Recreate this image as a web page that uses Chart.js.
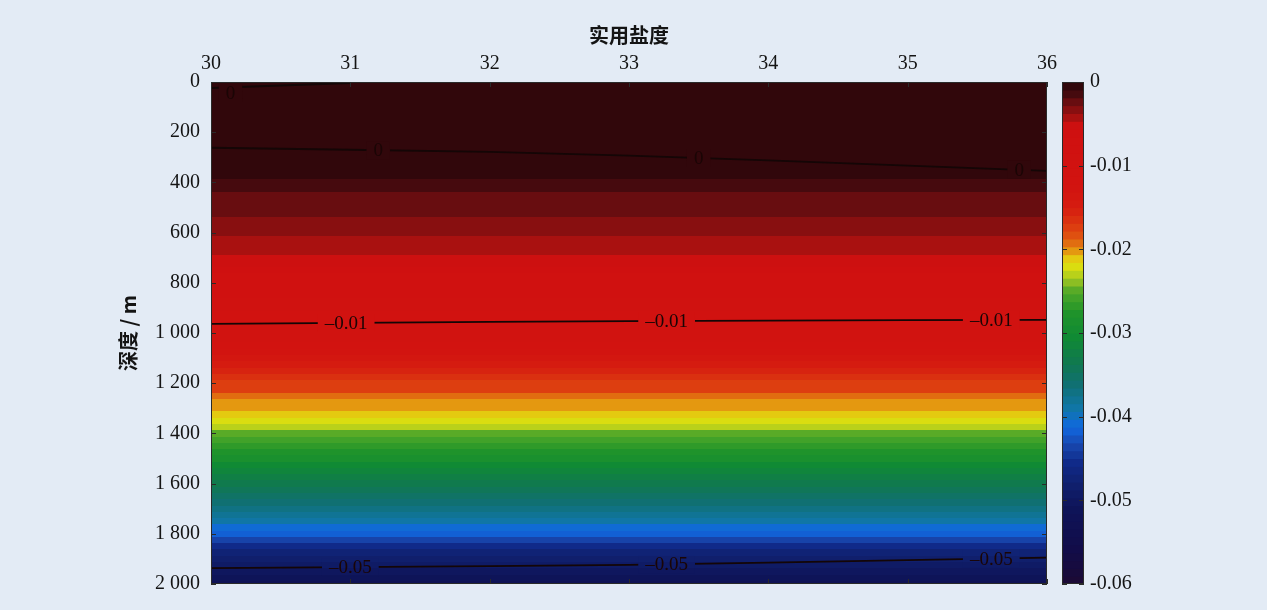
<!DOCTYPE html>
<html>
<head>
<meta charset="utf-8">
<script src="https://cdn.jsdelivr.net/npm/chart.js@4.4.1/dist/chart.umd.min.js"></script>
<style>
  html, body { margin: 0; padding: 0; background: #e3ebf5; }
  #wrap { position: relative; width: 1267px; height: 610px; }
  #main { position: absolute; left: 0; top: 0; }
  #bar { position: absolute; left: 1040px; top: 0; }
</style>
</head>
<body>
<div id="wrap">
  <canvas id="main" width="1267" height="610"></canvas>
  <canvas id="bar" width="227" height="610"></canvas>
</div>
<script>
// axes
const salinityTicks = [30, 31, 32, 33, 34, 35, 36];
const depthTicks = [0, 200, 400, 600, 800, 1000, 1200, 1400, 1600, 1800, 2000];
const colorbarTicks = [0, -0.01, -0.02, -0.03, -0.04, -0.05, -0.06];

// depth profile of the field (m)
const depths = [
  0, 25, 50, 75, 100, 125, 150, 175, 200, 225, 250, 275, 300, 325, 350, 375,
  400, 425, 450, 475, 500, 525, 550, 575, 600, 625, 650, 675, 700, 725, 750, 775,
  800, 825, 850, 875, 900, 925, 950, 975, 1000, 1025, 1050, 1075, 1100, 1125, 1150, 1175,
  1200, 1225, 1250, 1275, 1300, 1325, 1350, 1375, 1400, 1425, 1450, 1475, 1500, 1525, 1550, 1575,
  1600, 1625, 1650, 1675, 1700, 1725, 1750, 1775, 1800, 1825, 1850, 1875, 1900, 1925, 1950, 1975, 2000
];
const anomaly = [
  -0.0003, 0.0000, 0.0002, 0.0003, 0.0004, 0.0004, 0.0004, 0.0003, 0.0002, 0.0001, 0.0001, 0.0000, -0.0001, -0.0003, -0.0005, -0.0007,
  -0.0011, -0.0016, -0.0019, -0.0022, -0.0025, -0.0028, -0.0031, -0.0034, -0.0036, -0.0039, -0.0042, -0.0045, -0.0049, -0.0056, -0.0062, -0.0068,
  -0.0074, -0.0079, -0.0084, -0.0088, -0.0093, -0.0096, -0.0099, -0.0103, -0.0107, -0.0112, -0.0118, -0.0125, -0.0136, -0.0148, -0.0157, -0.0164,
  -0.0172, -0.0178, -0.0188, -0.0197, -0.0206, -0.0214, -0.0222, -0.0234, -0.0248, -0.0258, -0.0267, -0.0278, -0.0290, -0.0300, -0.0312, -0.0322,
  -0.0332, -0.0343, -0.0351, -0.0359, -0.0367, -0.0376, -0.0386, -0.0408, -0.0420, -0.0438, -0.0456, -0.0469, -0.0483, -0.0496, -0.0506, -0.0513, -0.0518
];

// contour lines
const contourSal = [30, 31, 32, 33, 34, 35, 36];
const zeroDepth = [262, 270, 278, 293, 312, 333, 354];
const minus001Depth = [964, 960, 956, 953, 951, 949, 948];
const minus005Depth = [1937, 1933, 1929, 1924, 1915, 1905, 1895];
const topZeroSal = [30, 30.5, 31];
const topZeroDepth = [24, 14, 4];

// where the contour labels sit
const topZeroLabels = [30.14];
const zeroLabels = [31.2, 33.5, 35.8];
const minus001Labels = [30.97, 33.27, 35.6];
const minus005Labels = [31.0, 33.27, 35.6];

// colour map
const stopValues = [0, -0.0015, -0.0025, -0.0036, -0.0045, -0.0052, -0.013, -0.0151, -0.017, -0.0188, -0.02, -0.0212,
  -0.0222, -0.0234, -0.025, -0.0275, -0.0305, -0.0336, -0.036, -0.039, -0.0412, -0.0432, -0.0455, -0.048, -0.051, -0.056, -0.06];
const stopColors = ["#26050a", "#480a0e", "#6e0e10", "#921010", "#b41210", "#cf1010", "#d21410", "#d61e10", "#dc3810", "#e05a10", "#e49010", "#e4d010",
  "#d8e010", "#a8c820", "#50a828", "#20942a", "#108a34", "#107850", "#107070", "#1076a8", "#1068e0", "#1848b0", "#102a88", "#10206e", "#0e1458", "#120c48", "#1c0a34"];

const nLevels = 64;
const vMin = -0.06, vMax = 0;
const step = (vMax - vMin) / nLevels;

function hexRgb(h) {
  return [parseInt(h.slice(1, 3), 16), parseInt(h.slice(3, 5), 16), parseInt(h.slice(5, 7), 16)];
}
function cmap(v) {
  v = Math.max(vMin, Math.min(vMax, v));
  for (let i = 0; i < stopValues.length - 1; i++) {
    if (v <= stopValues[i] && v >= stopValues[i + 1]) {
      const t = (stopValues[i] - v) / (stopValues[i] - stopValues[i + 1]);
      const a = hexRgb(stopColors[i]), b = hexRgb(stopColors[i + 1]);
      const c = a.map((x, k) => Math.round(x + (b[k] - x) * t));
      return `rgb(${c[0]},${c[1]},${c[2]})`;
    }
  }
  return stopColors[stopColors.length - 1];
}
const levelColors = [];
for (let k = 0; k < nLevels; k++) levelColors.push(cmap(vMax - (k + 0.5) * step));
function levelColor(v) {
  let k = Math.floor((vMax - v) / step);
  k = Math.max(0, Math.min(nLevels - 1, k));
  return levelColors[k];
}

const serif = "'Liberation Serif', 'DejaVu Serif', serif";
const cjk = "'Noto Sans CJK SC', sans-serif";
const ink = "#141414";

function fmtDepth(v) {
  const s = String(v);
  return s.length > 3 ? s.slice(0, s.length - 3) + " " + s.slice(-3) : s;
}

function line(sal, dep) {
  return {
    data: sal.map((s, i) => ({ x: s, y: dep[i] })),
    showLine: true,
    pointRadius: 0,
    borderColor: "#140606",
    borderWidth: 1.8,
    tension: 0
  };
}

function drawField(chart) {
  const { ctx, chartArea: a, scales: { x, y } } = chart;
  const x0 = x.getPixelForValue(salinityTicks[0]);
  const x1 = x.getPixelForValue(salinityTicks[salinityTicks.length - 1]);
  const half = (depths[1] - depths[0]) / 2;
  ctx.save();
  ctx.beginPath();
  ctx.rect(a.left, a.top, a.width, a.height);
  ctx.clip();
  depths.forEach((d, i) => {
    const y0 = Math.round(y.getPixelForValue(d - half));
    const y1 = Math.round(y.getPixelForValue(d + half));
    ctx.fillStyle = levelColor(anomaly[i]);
    ctx.fillRect(x0, y0, x1 - x0, y1 - y0 + 1);
  });
  ctx.restore();
}

function depthOn(sal, dep, s) {
  for (let i = 0; i < sal.length - 1; i++) {
    if (s >= sal[i] && s <= sal[i + 1]) {
      const t = (s - sal[i]) / (sal[i + 1] - sal[i]);
      return dep[i] + (dep[i + 1] - dep[i]) * t;
    }
  }
  return dep[dep.length - 1];
}

// small inward tick marks on the frame
function frameTicks(ctx, a, scale, vertical, both) {
  scale.ticks.forEach(t => {
    const p = Math.round(scale.getPixelForValue(t.value)) + 0.5;
    ctx.beginPath();
    if (vertical) {
      ctx.moveTo(a.left, p); ctx.lineTo(a.left + 5, p);
      if (both) { ctx.moveTo(a.right, p); ctx.lineTo(a.right - 5, p); }
    } else {
      ctx.moveTo(p, a.top); ctx.lineTo(p, a.top + 5);
      if (both) { ctx.moveTo(p, a.bottom); ctx.lineTo(p, a.bottom - 5); }
    }
    ctx.stroke();
  });
}

const fieldPlugin = {
  id: "field",
  beforeDatasetsDraw(chart) { drawField(chart); },
  afterDatasetsDraw(chart) {
    const { ctx, chartArea: a, scales: { x, y } } = chart;
    const groups = [
      [topZeroSal, topZeroDepth, topZeroLabels, "0"],
      [contourSal, zeroDepth, zeroLabels, "0"],
      [contourSal, minus001Depth, minus001Labels, "\u20130.01"],
      [contourSal, minus005Depth, minus005Labels, "\u20130.05"]
    ];
    ctx.save();
    ctx.font = "19px " + serif;
    ctx.textAlign = "center";
    ctx.textBaseline = "middle";
    groups.forEach(([sal, dep, labels, text]) => {
      labels.forEach(s => {
        const px = x.getPixelForValue(s);
        const py = Math.max(y.getPixelForValue(depthOn(sal, dep, s)), a.top + 11);
        const w = ctx.measureText(text).width + 14;
        ctx.save();
        ctx.beginPath();
        ctx.rect(px - w / 2, py - 9, w, 18);
        ctx.clip();
        drawField(chart);
        ctx.restore();
        ctx.fillStyle = "#1a0505";
        ctx.fillText(text, px, py + 1);
      });
    });
    ctx.strokeStyle = "#2a2a2a";
    ctx.lineWidth = 1;
    frameTicks(ctx, a, y, true, true);
    frameTicks(ctx, a, x, false, true);
    ctx.strokeRect(a.left + 0.5, a.top + 0.5, a.width - 1, a.height - 1);
    ctx.restore();
  }
};

new Chart(document.getElementById("main"), {
  type: "scatter",
  data: {
    datasets: [
      line(topZeroSal, topZeroDepth),
      line(contourSal, zeroDepth),
      line(contourSal, minus001Depth),
      line(contourSal, minus005Depth)
    ]
  },
  options: {
    responsive: false,
    animation: false,
    events: [],
    layout: { padding: { left: 112, top: 19, right: 220, bottom: 26 } },
    plugins: { legend: { display: false }, tooltip: { enabled: false } },
    scales: {
      x: {
        type: "linear",
        position: "top",
        min: salinityTicks[0],
        max: salinityTicks[salinityTicks.length - 1],
        afterBuildTicks: s => { s.ticks = salinityTicks.map(v => ({ value: v })); },
        ticks: { font: { family: serif, size: 20 }, color: ink, padding: -2 },
        grid: { display: false },
        border: { display: false },
        title: { display: true, text: "实用盐度", font: { family: cjk, size: 20, weight: "600" }, color: ink, padding: { top: 4, bottom: 0 } },
        afterFit: s => { s.height = 63; }
      },
      y: {
        type: "linear",
        reverse: true,
        min: depthTicks[0],
        max: depthTicks[depthTicks.length - 1],
        afterBuildTicks: s => { s.ticks = depthTicks.map(v => ({ value: v })); },
        ticks: { font: { family: serif, size: 20 }, color: ink, padding: 3, callback: v => fmtDepth(v) },
        grid: { display: false },
        border: { display: false },
        title: { display: true, text: "深度 / m", font: { family: cjk, size: 20, weight: "600" }, color: ink, padding: { top: 4, bottom: 0 } },
        afterFit: s => { s.width = 99; }
      }
    }
  },
  plugins: [fieldPlugin]
});

// colour bar
const barDatasets = levelColors.map((c, k) => ({
  data: [[vMax - (k + 1) * step - 0.00003, vMax - k * step]],
  backgroundColor: c,
  borderWidth: 0,
  barPercentage: 1,
  categoryPercentage: 1,
  grouped: false
}));

const framePlugin = {
  id: "frame",
  afterDatasetsDraw(chart) {
    const { ctx, chartArea: a, scales: { y } } = chart;
    ctx.save();
    ctx.strokeStyle = "#2a2a2a";
    ctx.lineWidth = 1;
    frameTicks(ctx, a, y, true, true);
    ctx.strokeRect(a.left + 0.5, a.top + 0.5, a.width - 1, a.height - 1);
    ctx.restore();
  }
};

new Chart(document.getElementById("bar"), {
  type: "bar",
  data: { labels: [""], datasets: barDatasets },
  options: {
    responsive: false,
    animation: false,
    events: [],
    layout: { padding: { left: 22, top: 82, right: 0, bottom: 26 } },
    plugins: { legend: { display: false }, tooltip: { enabled: false } },
    scales: {
      x: { display: false, stacked: true },
      y: {
        position: "right",
        min: vMin,
        max: vMax,
        afterBuildTicks: s => { s.ticks = colorbarTicks.map(v => ({ value: v })); },
        ticks: { font: { family: serif, size: 20 }, color: ink, padding: -2, callback: v => (v === 0 ? "0" : v.toFixed(2)) },
        grid: { display: false },
        border: { display: false },
        afterFit: s => { s.width = 183; }
      }
    }
  },
  plugins: [framePlugin]
});
</script>
</body>
</html>
